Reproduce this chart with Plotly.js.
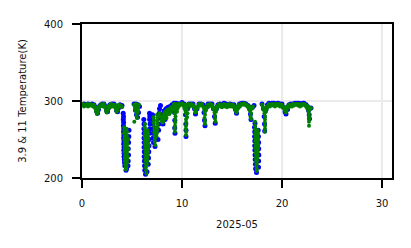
<!DOCTYPE html>
<html>
<head>
<meta charset="utf-8">
<script src="https://cdn.plot.ly/plotly-3.0.1.min.js"></script>
<style>
  html, body { margin: 0; padding: 0; background: #fff; }
  #chart { width: 411px; height: 248px; }
</style>
</head>
<body>
<div id="chart"></div>
<script>
// Tick positions / labels
const xTicks = [0, 10, 20, 30];
const yTicks = [200, 300, 400];
const xTitle = '2025-05';
const yTitle = '3.9 & 11 Temperature(K)';

// 3.9 um channel (blue), day of month vs brightness temperature (K)
const bx = [0.0,0.2,0.4,0.6,0.8,1.0, 1.2,1.35,1.45,1.55,1.65,1.8, 2.0,2.2,2.35,2.45,2.55,2.65,2.8, 3.0,3.2,3.35,3.45,3.55,3.65,3.8,4.0,
  4.12,4.15,4.13,4.16,4.14,4.17,4.15,4.18,4.16,4.19,4.17,4.2,4.18,4.21,4.2,4.23,4.25,4.28,4.4,4.45,4.6,4.62,4.65,4.63,4.66,4.68,4.7,
  5.2,5.4,5.6,5.75,5.35,5.45,5.55,5.65,
  6.18,6.2,6.19,6.21,6.2,6.22,6.21,6.23,6.22,6.24,6.25,6.28,6.35,6.5, 6.75,6.78,6.76,6.8,6.77,6.75,6.72,6.7,6.68,6.65,6.62,
  7.05,7.06,7.08,7.07,7.1,7.12,7.15,7.3,7.6, 7.75,7.72,7.7,7.68,7.66,7.85,
  8.0,8.2,8.4,8.6,8.8,9.0,8.1,8.3,
  9.2,9.4,9.6,9.25,9.28,9.27,9.3,9.5,9.7,
  10.0,10.2,10.35,10.38,10.4,10.4,10.55,10.7,
  10.9,11.1,11.25,11.35,11.5,11.7,
  11.9,12.1,12.2,12.25,12.3,12.45,12.6,12.8,
  13.0,13.15,13.25,13.32,13.45,13.6,
  13.8,14.0,14.2,14.4,14.6,14.8,15.0,
  15.2,15.35,15.45,15.6,15.75,
  16.0,16.2,16.4,
  16.6,16.75,16.85,16.9,17.05,17.2,17.3,
  17.25,17.27,17.26,17.28,17.27,17.29,17.3,17.32,17.34,17.36,17.45,17.65,17.66,17.68,17.67,17.66,17.64,17.62,
  18.0,18.15,18.22,18.25,18.27,18.4,18.55,18.7,
  19.0,19.2,19.4,19.6,19.8,
  20.0,20.15,20.3,20.4,20.55,20.7,
  20.9,21.1,21.3,21.5,21.7,21.9,22.1,
  22.2,22.4,22.55,22.65,22.72,22.75,22.9];
const by = [295,296,295,296,295,296, 295,292,287,284,289,294, 296,296,293,288,286,291,295, 296,296,293,288,286,291,295,294,
  284,280,276,272,268,264,260,256,252,248,244,240,236,232,228,224,220,216,210,212,216,222,230,238,246,254,262,
  296,296,295,293,288,282,279,285,
  276,270,264,258,252,246,240,234,228,222,216,210,205,208, 284,280,276,270,264,258,250,242,234,226,218,
  282,276,270,264,258,252,246,241,250, 290,284,278,270,262,294,
  282,287,290,292,293,295,270,276,
  297,297,296,285,275,265,258,292,296,
  298,296,282,270,262,254,290,296,
  296,296,290,283,290,296,
  296,295,285,275,268,292,296,296,
  296,290,280,271,290,295,
  296,295,297,296,295,296,295,
  295,289,284,292,296,
  297,297,296,
  294,290,283,276,292,294,271,
  266,260,254,248,242,236,230,224,218,212,207,214,222,230,238,246,254,262,
  296,290,280,270,261,289,295,297,
  297,297,296,297,296,
  296,292,286,283,289,295,
  296,296,297,297,297,296,297,
  297,295,293,288,282,277,291];

// 11 um channel (green)
const gx = [0.0,0.1,0.2,0.3,0.4,0.5,0.6,0.7,0.8,0.9,1.0,1.1,
  1.2,1.3,1.35,1.4,1.45,1.5,1.55,1.6,1.65,1.7,1.8,1.9,1.4,1.6,
  2.0,2.1,2.2,
  2.3,2.35,2.4,2.45,2.5,2.55,2.6,2.7,2.8,2.4,2.6,
  2.9,3.0,3.1,3.2,
  3.3,3.35,3.4,3.45,3.5,3.55,3.6,3.7,3.8,3.9,4.0,3.4,3.6,
  4.22,4.25,4.2,4.27,4.24,4.3,4.26,4.29,4.25,4.32,4.28,4.3,4.34,4.36,
  4.45,4.5,4.47,4.52,4.48,4.55,4.5,4.53,4.49,4.56,4.52,4.5,4.46,4.42,4.38,4.6,4.62,
  4.38,4.37,4.39,4.36,4.38,4.4,
  5.2,5.3,5.4,5.5,5.6,5.7,5.3,5.4,5.5,5.45,5.5,5.6,5.6,5.35,5.23,
  6.3,6.28,6.32,6.3,6.27,6.33,6.3,6.35,6.31,6.36,6.33,6.38,6.35,6.4,6.38,6.42,6.45,
  6.55,6.6,6.58,6.62,6.6,6.65,6.62,6.6,6.58,6.55,6.52,6.5,
  6.45,6.46,6.44,6.47,6.45,
  7.15,7.2,7.18,7.22,7.25,7.23,7.27,7.3,7.28,7.32,
  7.5,7.55,7.52,7.57,7.55,7.5,7.48,7.45,
  8.0,8.1,8.2,8.3,8.4,8.5,8.6,8.7,8.8,8.9,9.0,9.1,8.05,8.15,8.25,8.35,8.5,8.65,7.75,7.85,7.95,
  8.45,8.55,8.75,8.85,8.95,
  9.2,9.3,9.4,9.5,9.6,9.7,9.25,9.35,9.45,9.3,9.35,9.3,9.32,9.3,9.28,9.3,9.5,9.55,9.8,
  9.9,10.0,10.1,10.2,10.3,10.4,10.5,10.6,10.25,10.35,10.4,10.45,10.4,10.42,10.4,10.38,10.42,10.4,10.5,10.55,10.5,
  10.7,10.8,10.9,11.0,
  11.1,11.2,11.3,11.35,11.4,11.5,11.6,11.7,11.8,11.45,11.3,
  11.9,12.0,12.1,12.2,12.25,12.3,12.25,12.3,12.3,12.4,12.5,12.6,12.35,
  12.7,12.8,12.9,
  13.0,13.1,13.2,13.25,13.3,13.3,13.35,13.4,13.5,13.6,13.2,13.45,
  13.7,13.8,13.9,14.0,14.1,14.2,14.3,14.4,14.5,14.6,14.7,14.8,14.9,15.0,
  15.1,15.2,15.3,15.4,15.45,15.5,15.6,15.7,15.8,15.3,15.55,
  15.9,16.0,16.1,16.2,16.3,16.4,
  16.5,16.6,16.7,16.8,16.9,16.85,16.9,17.0,17.1,16.75,17.3,17.3,
  17.32,17.35,17.33,17.36,17.34,17.38,17.36,17.4,17.38,17.42,17.4,17.43,17.45,17.47,17.48,
  17.55,17.58,17.56,17.6,17.58,17.62,17.6,17.57,17.55,17.52,17.5,
  17.46,17.47,17.45,17.48,17.46,17.47,
  18.0,18.1,18.2,18.25,18.3,18.3,18.28,18.3,18.3,18.28,18.4,18.5,18.6,18.7,18.8,18.35,18.45,
  18.9,19.0,19.1,19.2,19.3,19.4,19.5,19.6,19.7,19.8,19.9,
  20.0,20.1,20.2,20.3,20.4,20.45,20.5,20.6,20.7,20.8,20.3,20.5,
  20.9,21.0,21.1,21.2,21.3,21.4,21.5,21.6,21.7,21.8,21.9,22.0,22.1,
  22.2,22.3,22.4,22.5,22.6,22.65,22.7,22.7,22.72,22.7,22.7,22.8,22.9,22.5,22.6];
const gy = [295,296,293,295,294,296,293,295,296,294,295,293,
  295,292,290,287,285,283,285,287,290,292,294,296,291,292,
  295,293,296,
  293,291,288,285,286,289,291,294,292,292,293,
  296,293,295,293,
  295,292,289,286,287,290,292,295,293,294,292,293,294,
  266,262,258,254,250,246,242,238,234,230,226,222,218,214,
  264,260,256,252,248,244,240,236,232,228,224,220,216,212,211,238,250,
  262,254,246,238,230,222,
  295,293,296,294,292,295,290,287,284,281,278,286,290,292,273,
  270,266,262,258,254,250,246,242,238,234,230,226,222,218,214,210,206,
  262,258,254,250,246,242,238,234,230,226,222,218,
  258,250,242,234,226,
  279,275,271,267,263,259,255,251,247,243,
  282,278,274,270,266,262,258,254,
  276,280,283,286,284,288,289,287,290,292,290,293,272,274,278,280,282,284,284,280,275,
  278,286,283,288,286,
  296,294,296,295,293,296,291,288,290,284,280,276,272,268,264,260,286,290,294,
  296,297,296,293,295,292,294,296,290,287,284,280,276,272,268,264,260,256,289,284,279,
  295,293,296,294,
  295,292,288,285,286,290,293,296,294,292,292,
  295,296,293,290,286,282,278,274,270,288,292,295,291,
  293,296,294,
  295,292,289,285,281,277,273,286,290,294,291,293,
  296,293,295,292,294,296,293,295,292,294,296,293,295,293,
  295,292,290,287,285,288,291,295,293,293,293,
  296,296,295,297,296,294,
  295,292,290,287,284,280,277,290,293,293,273,268,
  264,260,256,252,248,244,240,236,232,228,224,220,216,212,209,
  262,258,254,250,246,242,238,234,230,226,222,
  258,250,242,234,226,218,
  295,292,288,284,280,276,272,268,264,260,286,291,294,296,293,289,292,
  295,296,294,296,293,295,296,294,296,293,295,
  295,293,290,287,285,287,290,292,295,293,291,293,
  295,293,296,294,296,295,296,294,296,293,295,294,296,
  296,295,293,291,289,286,283,280,277,273,268,289,291,294,292];

const axisCommon = {
  ticks: 'outside', ticklen: 8, tickwidth: 2, tickcolor: '#000',
  showline: true, linewidth: 2, linecolor: '#000', mirror: true,
  showgrid: true, gridcolor: '#ebebeb', gridwidth: 1.5, zeroline: false,
  tickfont: { family: 'DejaVu Sans', size: 10, color: '#111' },
  ticklabelstandoff: 7
};

const layout = {
  width: 411, height: 248,
  margin: { l: 82, r: 19, t: 24, b: 70 },
  paper_bgcolor: '#fff', plot_bgcolor: '#fff',
  showlegend: false,
  font: { family: 'DejaVu Sans', size: 10, color: '#111' },
  xaxis: Object.assign({}, axisCommon, {
    range: [0, 31], tickvals: xTicks, ticktext: xTicks.map(String),
    title: { text: xTitle, standoff: 13, font: { family: 'DejaVu Sans', size: 10, color: '#111' } }
  }),
  yaxis: Object.assign({}, axisCommon, {
    range: [200, 400], tickvals: yTicks, ticktext: yTicks.map(String),
    title: { text: yTitle, standoff: 15, font: { family: 'DejaVu Sans', size: 10, color: '#111' } }
  })
};

const traces = [
  { type: 'scatter', mode: 'markers', x: bx, y: by, marker: { color: '#0000ff', size: 5 }, hoverinfo: 'skip' },
  { type: 'scatter', mode: 'markers', x: gx, y: gy, marker: { color: '#008000', size: 4 }, hoverinfo: 'skip' }
];

Plotly.newPlot('chart', traces, layout, { staticPlot: true, displayModeBar: false });
</script>
</body>
</html>
